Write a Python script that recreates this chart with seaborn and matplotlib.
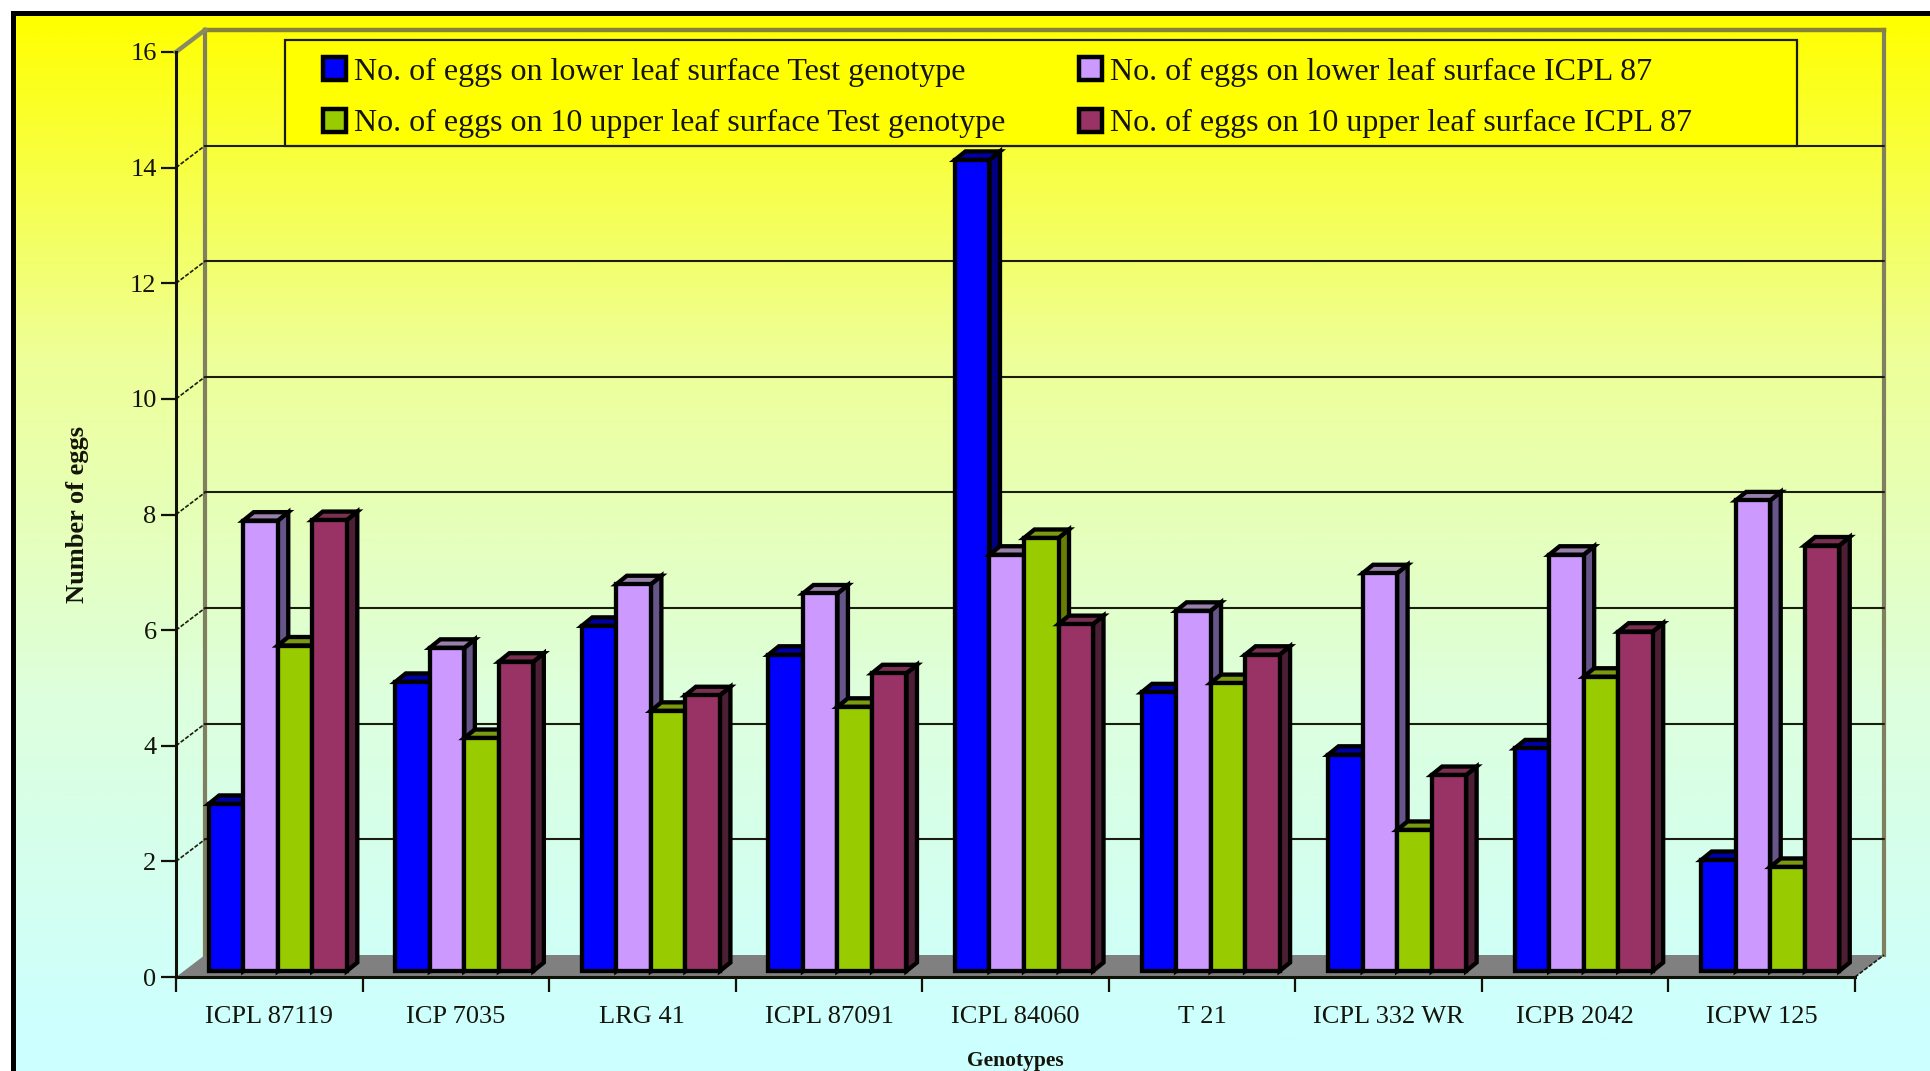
import matplotlib
matplotlib.use("Agg")
import matplotlib.pyplot as plt
import numpy as np
import pandas as pd
import seaborn as sns
from matplotlib.patches import Polygon, Rectangle
from matplotlib.colors import LinearSegmentedColormap

genotypes = ["ICPL 87119", "ICP 7035", "LRG 41", "ICPL 87091", "ICPL 84060",
             "T 21", "ICPL 332 WR", "ICPB 2042", "ICPW 125"]
lower_test = [2.89, 5.00, 5.97, 5.47, 14.03, 4.82, 3.74, 3.85, 1.92]
lower_icpl87 = [7.79, 5.59, 6.69, 6.53, 7.20, 6.23, 6.88, 7.20, 8.14]
upper_test = [5.63, 4.03, 4.50, 4.57, 7.49, 4.98, 2.44, 5.09, 1.80]
upper_icpl87 = [7.80, 5.35, 4.77, 5.15, 6.00, 5.47, 3.39, 5.87, 7.36]

series_names = ["No. of eggs on lower leaf surface Test genotype",
                "No. of eggs on 10 upper leaf surface Test genotype",
                "No. of eggs on lower leaf surface ICPL 87",
                "No. of eggs on 10 upper leaf surface ICPL 87"]
series_values = [lower_test, upper_test, lower_icpl87, upper_icpl87]
draw_order = [series_names[0], series_names[2], series_names[1], series_names[3]]
front_colors = {series_names[0]: "#0000FF", series_names[2]: "#CC99FF",
                series_names[1]: "#99CC00", series_names[3]: "#993366"}
side_colors = {"#0000FF": "#000080", "#CC99FF": "#665588",
               "#99CC00": "#667F00", "#993366": "#4D1F35"}
top_colors = {"#0000FF": "#0000A8", "#CC99FF": "#9980AA",
              "#99CC00": "#7A9A10", "#993366": "#7A3050"}

table = pd.DataFrame({
    "Genotype": np.tile(genotypes, 4),
    "Surface": np.repeat(series_names, len(genotypes)),
    "Eggs": np.concatenate(series_values),
})

W, H = 1931, 1071
DPI = 100
TEXT = "#14140a"
SERIF = ["Liberation Serif", "DejaVu Serif"]

sns.set_theme(style="white")
plt.rcParams["font.family"] = SERIF

fig = plt.figure(figsize=(W / DPI, H / DPI), dpi=DPI, facecolor="white")


def box(left, top, right, bottom):
    return [left / W, 1 - bottom / H, (right - left) / W, (bottom - top) / H]


# page background: black frame on the top and left, vertical colour wash inside
page = fig.add_axes([0, 0, 1, 1], zorder=0)
page.set_axis_off()
page.add_patch(Rectangle((11, 11), W, H, color="black", lw=0, zorder=0))
wash = LinearSegmentedColormap.from_list("wash", ["#FFFF00", "#EEFF99", "#DDFFDD", "#CCFFFF"])
page.imshow(np.linspace(0, 1, 400).reshape(-1, 1), cmap=wash, aspect="auto",
            extent=(16, W, H - 30, 16), zorder=1)
page.add_patch(Rectangle((16, H - 31), W, 32, color="#CCFFFF", lw=0, zorder=1))
page.set_xlim(0, W)
page.set_ylim(H, 0)

# front plane of the chart: axes, ticks and labels
ax = fig.add_axes(box(176, 52, 1855, 977), zorder=1)
ax.patch.set_visible(False)
ax.set_xlim(-0.5, 8.5)
ax.set_ylim(0, 16)

depth_x = 29 / (1679 / 9)
depth_y = 22 / (925 / 16)
x0, x1 = ax.get_xlim()

# floor and back wall
ax.add_patch(Polygon([(x0, 0), (x0 + depth_x, depth_y), (x1 + depth_x, depth_y), (x1, 0)],
                     closed=True, facecolor="#808080", edgecolor="none", clip_on=False, zorder=1))
wall = dict(clip_on=False, zorder=1.5, solid_capstyle="projecting")
ax.plot([x0 + depth_x] * 2, [depth_y, 16 + depth_y], color="#808060", lw=3, **wall)
ax.plot([x1 + depth_x] * 2, [depth_y, 16 + depth_y], color="#808060", lw=3, **wall)
ax.plot([x0 + depth_x, x1 + depth_x], [16 + depth_y] * 2, color="#86823A", lw=3.2, **wall)
ax.plot([x0, x0 + depth_x], [16, 16 + depth_y], color="#8A8A60", lw=3.2, **wall)

yticks = np.arange(0, 17, 2)
for tick in yticks[1:-1]:
    ax.plot([x0 + depth_x, x1 + depth_x], [tick + depth_y] * 2, color="#1c1c10", lw=1.5,
            clip_on=False, zorder=1.6)
for tick in yticks[1:-1]:
    ax.plot([x0, x0 + depth_x], [tick, tick + depth_y], color="#1c1c10", lw=1.2,
            ls=(0, (2.5, 1)), clip_on=False, zorder=1.6)
ax.plot([x1, x1 + depth_x], [0, depth_y], color="#1c1c10", lw=1.2, ls=(0, (2.5, 1)),
        clip_on=False, zorder=1.6)

for name in ("top", "right"):
    ax.spines[name].set_visible(False)
for name in ("left", "bottom"):
    ax.spines[name].set_color("#111108")
    ax.spines[name].set_linewidth(2.2)
    ax.spines[name].set_zorder(2)

ax.set_yticks(yticks)
ax.tick_params(axis="y", left=True, length=10.5, width=1.6, color="#111108", pad=3.5,
               labelsize=19, labelcolor=TEXT)
ax.set_xticks(np.arange(-0.5, 9, 1))
ax.set_xticklabels([])
ax.set_xticks(np.arange(9), labels=genotypes, minor=True)
ax.tick_params(axis="x", which="major", bottom=True, length=10.5, width=1.6, color="#111108")
ax.tick_params(axis="x", which="minor", bottom=False, length=0, pad=21,
               labelsize=19, labelcolor=TEXT)

ax.set_ylabel("Number of eggs", fontsize=19, fontweight="bold", color=TEXT, va="center")
ax.yaxis.set_label_coords((78 - 176) / 1679, 0.5)
ax.set_xlabel("Genotypes", fontsize=15.5, fontweight="bold", color=TEXT, va="center")
ax.xaxis.set_label_coords(0.5, (977 - 1061) / 925)

# bars sit a little way into the depth of the floor
bars = fig.add_axes(box(184.5, 46, 1863.5, 971), zorder=2)
sns.barplot(data=table, x="Genotype", y="Eggs", hue="Surface", hue_order=draw_order,
            order=genotypes, palette=front_colors, width=0.74, gap=0, saturation=1,
            edgecolor="black", linewidth=3.1, ax=bars)
bars.set_xlim(-0.5, 8.5)
bars.set_ylim(0, 16)
bars.set_axis_off()

bar_dx = 10.5 / (1679 / 9)
bar_dy = 8.5 / (925 / 16)
hex_of = {matplotlib.colors.to_rgba(c): c for c in side_colors}
front_bars = [p for p in bars.patches if p.get_height() > 0]
front_bars.sort(key=lambda p: p.get_x())
for rank, patch in enumerate(front_bars):
    px, pw, ph = patch.get_x(), patch.get_width(), patch.get_height()
    base = hex_of[matplotlib.colors.to_rgba(patch.get_facecolor())]
    patch.set_clip_on(False)
    patch.set_zorder(3 + 2 * rank + 1)
    patch.set_joinstyle("miter")
    style = dict(closed=True, edgecolor="black", linewidth=3.1, clip_on=False,
                 zorder=3 + 2 * rank, joinstyle="miter")
    bars.add_patch(Polygon([(px + pw, 0), (px + pw + bar_dx, bar_dy),
                            (px + pw + bar_dx, ph + bar_dy), (px + pw, ph)],
                           facecolor=side_colors[base], **style))
    bars.add_patch(Polygon([(px, ph), (px + bar_dx, ph + bar_dy),
                            (px + pw + bar_dx, ph + bar_dy), (px + pw, ph)],
                           facecolor=top_colors[base], **style))

# legend: two columns inside a yellow box along the top of the back wall
ax.add_patch(Rectangle((285 / W, 1 - 146 / H), (1797 - 285) / W, (146 - 40) / H,
                       transform=fig.transFigure, facecolor="#FFFF00",
                       edgecolor="#1c1c10", lw=1.6, clip_on=False, zorder=1.8))
handles, labels = bars.get_legend_handles_labels()
lookup = dict(zip(labels, handles))
bars.get_legend().remove()
legend = bars.legend([lookup[n] for n in series_names], series_names, ncol=2,
                     loc="upper left", bbox_to_anchor=(323 / W, 1 - 57 / H),
                     bbox_transform=fig.transFigure, frameon=False, borderpad=0,
                     borderaxespad=0, fontsize=23, handlelength=0.72, handleheight=0.72,
                     handletextpad=0.24, labelspacing=0.7, columnspacing=2.33,
                     labelcolor=TEXT)
legend.set_zorder(100)
for handle in legend.legend_handles:
    handle.set_edgecolor("black")
    handle.set_linewidth(3.2)

fig.savefig("out.png", dpi=DPI, facecolor="white")
